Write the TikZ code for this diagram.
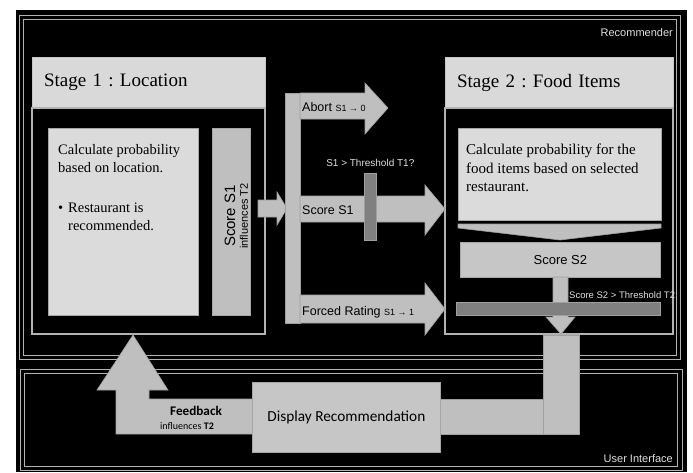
\documentclass[tikz,border=0pt]{standalone}
\usepackage{fontspec}
\setmainfont{Liberation Serif}
\setsansfont{Liberation Sans}
\newfontfamily\calibri{Carlito}
\usetikzlibrary{positioning}
\frenchspacing

\begin{document}
\begin{tikzpicture}[x=1pt, y=-1pt, font=\sffamily,
	outerframe/.style={draw=gray!60, line width=0.9pt, double=black, double distance=3.5pt},
	stagebody/.style={draw=gray!60, line width=1.2pt, fill=black, minimum height=226pt, inner sep=0pt, outer sep=0pt},
	titlebox/.style={draw=gray!45, line width=1pt, fill=gray!30, minimum height=51pt, inner xsep=12pt, outer sep=0pt, align=left, font=\rmfamily\fontsize{19}{22}\selectfont},
	textbox/.style={draw=gray!70, line width=0.8pt, fill=gray!28, inner sep=0pt, anchor=north west},
	block/.style={draw=gray!75, line width=0.6pt, fill=gray!50},
	darkbar/.style={draw=gray!75, line width=0.6pt, fill=gray, inner sep=0pt, anchor=north west},
	arrowtext/.style={anchor=west, inner sep=0pt, font=\sffamily\fontsize{12.5}{14}\selectfont},
	small/.style={font=\sffamily\fontsize{8}{9}\selectfont},
	tag/.style={inner sep=0pt, text=gray!25, font=\sffamily\fontsize{10}{11}\selectfont},
	]

	\useasboundingbox (0,0) rectangle (693,472);
	\fill[white] (0,0) rectangle (693,472);
	\fill[black] (16,10) rectangle (687,472);

	\draw[outerframe] (21.5,17.5) rectangle (678.5,357.5);
	\draw[outerframe] (22.5,371.5) rectangle (680,468.5);
	\node[tag, anchor=east, font=\sffamily\fontsize{11}{12}\selectfont] (rec) at (673,33) {Recommender};
	\node[tag, anchor=east, font=\sffamily\fontsize{11}{12}\selectfont] (ui) at (673,459) {User Interface};

	\node[titlebox, text width=209pt, anchor=north west] 						(st1) 		at (32,57) 	{Stage 1 : Location};
	\node[stagebody, minimum width=233pt, below=0pt of st1] 						(st1body) 				{};
	\node[titlebox, text width=204pt, anchor=north west] 						(st2) 		at (445,57) 	{Stage 2 : Food Items};
	\node[stagebody, minimum width=228pt, below=0pt of st2] 						(st2body) 				{};

	\node[textbox, minimum width=150pt, minimum height=187pt] 					(loc) 		at (48,128) 	{};
	\node[anchor=north west, inner sep=0pt, align=left, font=\rmfamily\fontsize{14.5}{18.5}\selectfont] (loctext) at (58,144)
		{Calculate probability\\based on location.\\[21pt]\makebox[10pt][l]{\textbullet}Restaurant is\\\hspace*{10pt}recommended.};
	\node[textbox, fill=gray!50, minimum width=38pt, minimum height=187pt] 		(S1) 		at (212,128) 	{};
	\node[rotate=90, inner sep=0pt, font=\sffamily\fontsize{15}{15}\selectfont] 	(S1name) 	at (230,216) 	{Score S1};
	\node[rotate=90, inner sep=0pt, font=\sffamily\fontsize{11}{11}\selectfont] 	(S1infl) 	at (244,216) 	{influences T2};

	\draw[block] (258,200) -- (277,200) -- (277,192) -- (287,208.5) -- (277,225) -- (277,217) -- (258,217) -- cycle;
	\node[block, minimum width=15pt, minimum height=230pt, inner sep=0pt, anchor=north west] (split) at (285,93) {};

	\draw[block] (300,93) -- (365,93) -- (365,83) -- (388,108) -- (365,134) -- (365,119) -- (300,119) -- cycle;
	\node[arrowtext] (abort) at (302,107) {Abort {\small S1 → 0}};

	\draw[block] (300,196) -- (425,196) -- (425,185) -- (445,209) -- (425,235) -- (425,222) -- (300,222) -- cycle;
	\node[arrowtext] (score1) at (302,210) {Score S1};
	\node[darkbar, minimum width=12pt, minimum height=67pt] (T1) at (364,173) {};
	\node[tag, above=6pt of T1] (T1text) {S1 > Threshold T1?};

	\draw[block] (300,295) -- (425,295) -- (425,283) -- (445,309) -- (425,335) -- (425,323) -- (300,323) -- cycle;
	\node[arrowtext] (forced) at (302,312) {Forced Rating {\small S1 → 1}};

	\node[textbox, minimum width=203pt, minimum height=92pt] 					(food) 		at (458,128) 	{};
	\node[anchor=north west, inner sep=0pt, align=left, font=\rmfamily\fontsize{15}{18.5}\selectfont] (foodtext) at (466,144)
		{Calculate probability for the\\food items based on selected\\restaurant.};
	\draw[block] (458,224) -- (661,224) -- (661,228) -- (560,240) -- (458,228) -- cycle;
	\node[textbox, fill=gray!45, minimum width=200pt, minimum height=35pt, anchor=north west, font=\sffamily\fontsize{13}{14}\selectfont] (S2) at (460,242) {Score S2};

	\draw[block] (553,277) -- (568,277) -- (568,317) -- (575,317) -- (561,334) -- (546,317) -- (553,317) -- cycle;
	\node[darkbar, minimum width=204pt, minimum height=13pt] (T2) at (456,302) {};
	\node[tag, anchor=west, font=\sffamily\fontsize{9.5}{10}\selectfont] (T2text) at (569,295) {Score S2 > Threshold T2};

	\draw[block] (543,335) rectangle (579,434);
	\draw[block] (440,399) rectangle (543,434);
	\draw[block] (252,434) -- (116,434) -- (116,390) -- (97,390) -- (133,335) -- (168,390) -- (149,390) -- (149,399) -- (252,399);
	\node[textbox, fill=gray!45, minimum width=188pt, minimum height=70pt, font=\calibri\fontsize{15.3}{17}\selectfont] (disp) at (252,382) {Display Recommendation};
	\node[inner sep=0pt, font=\calibri\bfseries\fontsize{13.2}{14}\selectfont] (feed) at (196,411) {Feedback};
	\node[inner sep=0pt, font=\calibri\fontsize{10}{11}\selectfont] (feedinfl) at (187,426) {influences {\bfseries T2}};
\end{tikzpicture}
\end{document}
